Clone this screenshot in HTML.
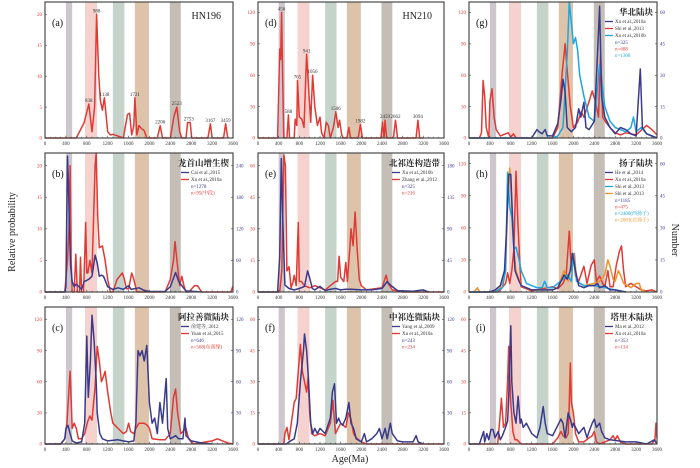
<!DOCTYPE html>
<html><head><meta charset="utf-8"><style>
html,body{margin:0;padding:0;background:#fff;}
svg{display:block;font-family:"Liberation Serif","Noto Serif CJK SC",serif;}
</style></head><body>
<svg id="chart" width="700" height="468" viewBox="0 0 700 468" xmlns="http://www.w3.org/2000/svg"></svg>
<script>
// ---- data ----
const xTicks=[0,400,800,1200,1600,2000,2400,2800,3200,3600];
const bandStart=[400,766,1300,1720,2390];
const bandEnd=[520,996,1520,1990,2600];
const bandColors=['#cdc6cc','#f6d2cf','#c6d3cb','#dcc3aa','#c5beb6'];

const aAge=[0,600,750,838,900,950,988,1030,1060,1100,1138,1200,1250,1300,1400,1500,1580,1620,1660,1700,1721,1760,1800,1850,1900,1950,2150,2206,2250,2400,2470,2523,2580,2620,2700,2730,2780,2810,3120,3167,3200,3420,3459,3500];
const aVal=[0,0,2.5,5.5,1,5,20,10,6,4.5,6.5,1,0.5,0.6,0.3,0,3.8,4,0.5,2,6.5,0.5,2,1.5,1.2,0,0,2,0,0,3.5,5,1,0,0,2.5,2.5,0,0,2.3,0,0,2.3,0];
const aPeaks=[838,988,1138,1721,2206,2523,2753,3167,3459];
const aPeakVals=[5.5,20,6.5,6.5,2,5,2.5,2.3,2.3];

const dAge=[0,380,420,440,456,480,500,560,588,610,700,720,750,765,800,850,890,941,990,1020,1056,1100,1150,1200,1230,1280,1320,1360,1400,1460,1506,1550,1580,1620,1650,1720,1760,1790,1940,1982,2020,2380,2410,2440,2459,2490,2620,2662,2700,3060,3094,3130,3200];
const dVal=[0,0,85,75,120,50,0,0,22,0,0,18,12,55,20,18,10,80,40,15,60,30,12,20,5,0,15,12,0,10,25,10,17,3,0,0,10,0,0,13,0,0,15,0,17,0,0,17,0,0,17,0,0];
const dPeaks=[456,588,765,941,1056,1506,1982,2459,2662,3094];
const dPeakVals=[120,22,55,80,60,25,13,17,17,17];

const bRedAge=[0,380,430,460,480,500,520,560,590,620,660,680,700,740,780,800,820,860,900,960,980,1010,1040,1100,1150,1200,1250,1300,1380,1480,1520,1560,1600,1660,1700,1760,1800,2300,2400,2460,2490,2540,2580,2620,2660,2700,2760,2860,2920,3000,3560,3600];
const bRedVal=[0,0,5,10,20,5,0,0,6,0,0,5.5,0,0,11,3,3,5,3,20,22,12,7,7.3,5,2,0,0,2,3,2,0.5,0.5,3,2,0,0,0,2,5,8,4,1,2.5,1,0,0,1,1,0,0,1];
const bBlueAge=[0,380,400,430,450,470,490,520,560,600,650,700,750,800,850,900,960,1000,1040,1080,1120,1200,1300,1400,1500,1600,1650,1800,1900,2000,2300,2400,2500,2560,2650,2700,3000];
const bBlueVal=[0,0,10,258,200,120,50,20,10,15,10,5,20,22,25,30,70,55,30,32,30,10,5,8,5,12,5,8,3,1,1,10,37,20,8,2,0];

const cRedAge=[0,300,380,420,480,520,560,600,640,700,760,820,860,900,960,1000,1040,1080,1120,1150,1200,1260,1300,1400,1500,1560,1600,1640,1700,1740,1800,1900,1960,2000,2050,2200,2300,2400,2460,2500,2540,2600,2700,2750,2800,2850,3200,3300,3400,3500,3600];
const cRedVal=[0,0,5,20,70,15,20,15,5,5,10,22,27,23,55,94,80,60,65,70,50,30,20,15,10,12,20,12,10,15,20,20,18,15,5,4,4,10,45,53,30,10,15,5,2,0,3,5,3,1,0];
const cBlueAge=[0,300,380,400,440,480,520,600,700,760,800,830,870,900,940,980,1000,1050,1100,1200,1400,1500,1600,1700,1740,1780,1820,1860,1900,1950,2000,2050,2100,2150,2200,2250,2300,2320,2350,2400,2500,2560,2640,2680,2700,2800,3000,3200];
const cBlueVal=[0,0,5,15,18,10,3,1,2,20,104,45,80,124,100,60,30,10,5,3,4,3,2,3,20,90,85,90,80,95,40,20,25,10,40,20,50,63,15,5,8,5,5,25,8,3,1,0];

const eRedAge=[0,420,460,500,530,560,600,640,680,700,740,780,800,840,900,1000,1100,1200,1300,1400,1500,1540,1570,1600,1660,1700,1730,1780,1800,1840,1880,1920,1960,2000,2100,2400,2480,2520,2600,2800,3600];
const eRedVal=[0,0,10,65,60,10,12,2,5,8,3,33,5,5,3,2,3,2,1,3,5,5,17,7,5,14,5,22,30,22,38,20,6,3,1,2,8,4,1,0,0];
const eBlueAge=[0,380,420,450,480,520,600,700,800,900,960,1000,1050,1100,1200,1300,1400,1500,1600,1700,1800,2000,2200,2400,2500,2560,2700,3000,3200,3300];
const eBlueVal=[0,0,50,190,100,10,5,3,5,8,30,20,5,3,8,2,4,5,3,4,4,3,3,5,15,10,2,1,3,0];

const fRedAge=[0,500,520,560,600,700,740,780,820,860,900,940,970,1000,1040,1100,1200,1300,1400,1450,1500,1600,1700,1750,1800,1850,1900,2000,2100,3600];
const fRedVal=[0,0,5,8,2,20,22,35,48,35,30,25,32,15,5,4,5,4,10,21,5,10,8,15,12,5,3,1,0,0];
const fBlueAge=[0,550,600,700,760,820,880,900,940,980,1020,1060,1100,1150,1200,1300,1400,1440,1480,1520,1560,1600,1640,1700,1760,1800,1850,1900,2000,2060,2100,2200,2300,2350,2400,2460,2500,2560,2600,2700,2800,3000,3060,3100,3200];
const fBlueVal=[0,0,2,5,20,60,90,106,90,60,20,10,15,10,15,10,25,50,58,20,25,20,18,25,40,20,15,5,2,10,2,5,10,15,5,15,5,20,10,3,2,2,8,2,0];

const gRedAge=[0,200,240,270,300,330,380,400,440,480,520,600,750,800,850,900,1600,1700,1780,1840,1880,1940,2000,2080,2150,2200,2300,2360,2420,2480,2520,2560,2620,2700,2800,2900,3000,3200,3400,3500,3600];
const gRedVal=[0,0,5,55,40,10,0,35,47,20,8,2,5,1,4,0,0,10,60,90,65,30,10,15,25,20,35,45,35,20,80,20,15,10,5,3,5,3,12,8,3];
const gNavyAge=[0,1200,1300,1340,1400,1460,1500,1600,1700,1760,1800,1840,1880,1960,2040,2100,2140,2200,2240,2300,2400,2460,2500,2540,2600,2700,2800,2900,3000,3100,3200,3280,3320,3400,3600];
const gNavyVal=[0,0,4,3,2,4,1,1,7,18,28,22,5,3,5,14,10,17,5,4,8,40,63,20,10,5,2,5,4,2,1,33,5,2,0];
const gCyanAge=[0,1600,1700,1800,1880,1920,1960,2000,2040,2080,2120,2200,2300,2400,2500,2540,2600,2700,2800,2900,3000,3100,3150,3200,3300,3400,3500,3600];
const gCyanVal=[0,0,1,5,40,65,55,45,48,42,30,20,10,8,35,28,15,8,5,4,3,5,10,3,5,2,1,0];

const hRedAge=[0,550,600,700,740,780,820,860,900,940,980,1000,1200,1400,1600,1700,1800,1860,1920,1960,2000,2040,2100,2200,2260,2340,2400,2440,2500,2560,2600,2660,2700,2760,2820,2880,2920,2960,3000,3100,3200,3300,3400,3500,3600];
const hRedVal=[0,0,2,8,18,8,20,40,113,60,20,5,1,3,5,3,8,15,57,20,35,15,10,24,8,25,30,10,15,8,5,20,5,5,25,38,43,20,5,8,5,2,1,2,0];
const hNavyAge=[0,400,500,600,680,720,760,800,840,880,960,1000,1200,1600,1700,1820,1880,1940,1980,2040,2100,2200,2300,2400,2460,2500,2600,2700,2800,3000];
const hNavyVal=[0,0,1,3,10,30,55,55,30,10,5,3,1,1,2,8,6,10,18,10,3,2,3,3,4,2,3,1,1,0];
const hCyanAge=[0,500,560,640,700,740,780,820,860,900,960,1000,1100,1300,1400,1450,1500,1600,1800,1880,1960,2000,2060,2200,2400,2600,2800,3000];
const hCyanVal=[0,0,1,2,10,56,40,35,20,21,15,10,4,2,2,5,2,2,6,8,5,18,5,3,3,2,1,0];
const hOrangeAge=[0,100,160,200,500,600,700,740,780,820,860,900,1000,1200,1600,1700,1820,1900,1980,2020,2060,2200,2400,2500,2600,2660,2700,2760,2800,2860,2900,2960,3100,3200,3260,3300,3400];
const hOrangeVal=[0,0,2,0,0,2,10,40,58,40,20,10,3,1,1,2,10,5,16,18,5,3,4,5,8,15,12,6,5,10,8,4,2,4,4,1,0];

const iRedAge=[0,550,600,620,660,700,740,760,800,840,880,920,1000,1600,1700,1760,1800,1860,1900,1920,1940,1960,2000,2040,2100,2200,2300,2360,2400,2440,2500,2700,2760,2800,2840,2900,3000,3500,3560,3580,3600];
const iRedVal=[0,0,15,22,8,10,30,47,20,6,2,2,0,0,3,6,4,3,5,20,39,20,15,5,1,1,3,4,6,1,0,2,4,2,4,1,0,0,2,10,3];
const iNavyAge=[0,200,280,300,340,380,420,460,500,560,600,640,700,740,760,780,800,820,860,900,940,980,1000,1040,1100,1200,1300,1360,1420,1460,1500,1600,1700,1760,1800,1840,1900,1940,1980,2000,2100,2200,2260,2300,2360,2400,2440,2500,2540,2600,2700,3000,3200,3400,3550,3600];
const iNavyVal=[0,0,6,1,5,2,7,7,3,6,2,4,8,11,22,40,57,30,15,10,23,10,12,8,10,5,3,8,18,10,5,4,9,12,10,3,15,12,8,10,5,8,3,6,10,12,8,10,6,3,2,1,1,0,2,0];

// ---- drawing ----
const NS='http://www.w3.org/2000/svg';
const svg=document.getElementById('chart');
const RED='#e03a35',NAVY='#3a3a8c',CYAN='#1ea6de',ORANGE='#f0922a';
const COLS=[[45,233],[258,444],[469,657]];
const ROWS=[[2,138],[153,292],[307,444]];
function el(tag,attrs,parent){const e=document.createElementNS(NS,tag);for(const k in attrs)e.setAttribute(k,attrs[k]);(parent||svg).appendChild(e);return e;}
function txt(x,y,s,size,fill,anchor,parent){const t=el('text',{x:x,y:y,'font-size':size,fill:fill,'text-anchor':anchor||'start'},parent);t.textContent=s;return t;}

const panels=[
 {id:'a',c:0,r:0,lmax:22,lt:[0,5,10,15,20],series:[[aAge,aVal,RED,'l']],peaks:[aPeaks,aPeakVals],sample:'HN196'},
 {id:'b',c:0,r:1,lmax:22,lt:[0,5,10,15,20],rmax:264,rt:[0,60,120,180,240],series:[[bRedAge,bRedVal,RED,'l'],[bBlueAge,bBlueVal,NAVY,'r']],
  title:'龙首山增生楔',leg:[['Cai et al.,2015',NAVY],['Xu et al.,2010a',RED]],ns:[['n=1278',NAVY],['n=95(中段)',RED]]},
 {id:'c',c:0,r:2,lmax:132,lt:[0,30,60,90,120],rmax:132,rt:[0,30,60,90,120],series:[[cRedAge,cRedVal,RED,'l'],[cBlueAge,cBlueVal,NAVY,'r']],
  title:'阿拉善微陆块',leg:[['俞建等, 2012',NAVY],['Yuan et al.,2015',RED]],ns:[['n=646',NAVY],['n=568(东南缘)',RED]]},
 {id:'d',c:1,r:0,lmax:130,lt:[0,30,60,90,120],series:[[dAge,dVal,RED,'l']],peaks:[dPeaks,dPeakVals],sample:'HN210'},
 {id:'e',c:1,r:1,lmax:66,lt:[0,15,30,45,60],rmax:198,rt:[0,45,90,135,180],series:[[eRedAge,eRedVal,RED,'l'],[eBlueAge,eBlueVal,NAVY,'r']],
  title:'北祁连构造带',leg:[['Xu et al.,2010b',NAVY],['Zhang et al.,2012',RED]],ns:[['n=325',NAVY],['n=216',RED]]},
 {id:'f',c:1,r:2,lmax:66,lt:[0,15,30,45,60],rmax:132,rt:[0,30,60,90,120],series:[[fRedAge,fRedVal,RED,'l'],[fBlueAge,fBlueVal,NAVY,'r']],
  title:'中祁连微陆块',leg:[['Yang et al.,2009',NAVY],['Xu et al.,2010a',RED]],ns:[['n=243',NAVY],['n=234',RED]]},
 {id:'g',c:2,r:0,lmax:130,lt:[0,30,60,90,120],rmax:65,rt:[0,15,30,45,60],series:[[gRedAge,gRedVal,RED,'l'],[gCyanAge,gCyanVal,CYAN,'r'],[gNavyAge,gNavyVal,NAVY,'r']],
  title:'华北陆块',leg:[['Xu et al.,2010a',NAVY],['Shi et al.,2013',RED],['Xu et al.,2010b',CYAN]],ns:[['n=325',NAVY],['n=688',RED],['n=1308',CYAN]]},
 {id:'h',c:2,r:1,lmax:130,lt:[0,30,60,90,120],rmax:65,rt:[0,15,30,45,60],series:[[hRedAge,hRedVal,RED,'l'],[hOrangeAge,hOrangeVal,ORANGE,'r'],[hCyanAge,hCyanVal,CYAN,'r'],[hNavyAge,hNavyVal,NAVY,'r']],
  title:'扬子陆块',leg:[['He et al.,2014',NAVY],['Xu et al.,2010a',RED],['Shi et al.,2013',CYAN],['Shi et al.,2013',ORANGE]],ns:[['n=1185',NAVY],['n=475',RED],['n=2400(西扬子)',CYAN],['n=2083(北扬子)',ORANGE]]},
 {id:'i',c:2,r:2,lmax:66,lt:[0,15,30,45,60],series:[[iRedAge,iRedVal,RED,'l'],[iNavyAge,iNavyVal,NAVY,'l']],
  title:'塔里木陆块',leg:[['Ma et al.,2012',NAVY],['Xu et al.,2010a',RED]],ns:[['n=353',NAVY],['n=134',RED]]}
];

panels.forEach(p=>{
 const [x0,x1]=COLS[p.c],[top,base]=ROWS[p.r];
 const g=el('g',{});
 
 
 const X=a=>x0+(x1-x0)*a/3600;
 const YL=v=>base-(base-top)*v/p.lmax;
 const YR=v=>base-(base-top)*v/p.rmax;
 bandStart.forEach((s,k)=>{
  const b=el('rect',{x:X(s),y:top,width:X(bandEnd[k])-X(s),height:base-top,fill:bandColors[k]},g);
  
  
 });
 p.series.forEach((s,k)=>{
  const [ages,vals,col,side]=s;const Y=side==='l'?YL:YR;
  const pts=ages.map((a,j)=>X(a).toFixed(1)+','+Y(vals[j]).toFixed(1)).join(' ');
  const l=el('polyline',{points:pts,fill:'none',stroke:col,'stroke-width':1.5,'stroke-linejoin':'round'},g);
  
  
 });
 const fr=el('rect',{x:x0,y:top,width:x1-x0,height:base-top,fill:'none',stroke:'#4a4a4a','stroke-width':1.2},g);
 
 
 const xa=el('g',{},g);
 
 
 for(let a=0;a<=3600;a+=100){el('line',{x1:X(a),x2:X(a),y1:base,y2:base-(a%400?1.2:2.2),stroke:'#444','stroke-width':0.6},xa);}
 xTicks.forEach(a=>txt(X(a),base+7,String(a),5,'#333','middle',xa));
 const ya=el('g',{},g);
 
 
 p.lt.forEach(v=>{el('line',{x1:x0,x2:x0+2,y1:YL(v),y2:YL(v),stroke:'#444','stroke-width':0.6},ya);txt(x0-3,YL(v)+1.7,String(v),5,RED,'end',ya);});
 if(p.rt){
  const yr=el('g',{},g);
  
  
  p.rt.forEach(v=>{el('line',{x1:x1,x2:x1-2,y1:YR(v),y2:YR(v),stroke:'#444','stroke-width':0.6},yr);txt(x1+3,YR(v)+1.7,String(v),5,NAVY,'start',yr);});
 }
 const pl=txt(x0+7,top+24,'('+p.id+')',10,'#111','start',g);
 
 
 if(p.sample){
  const sn=txt(x1-12,top+17,p.sample,10,'#222','end',g);
  
  
  p.peaks[0].forEach((a,j)=>txt(X(a),YL(p.peaks[1][j])-2,String(a),5,'#333','middle',g));
 }
 if(p.title){
  const lg=el('g',{},g);
  
  
  const tt=txt(x1-4,top+13,p.title,8.5,'#222','end',lg);
  tt.setAttribute('font-weight','bold');
  const lx=x1-52;let y=top+21;
  p.leg.forEach(e=>{el('line',{x1:lx,x2:lx+8,y1:y-1.5,y2:y-1.5,stroke:e[1],'stroke-width':1.3},lg);txt(lx+10,y,e[0],5,'#333','start',lg);y+=7;});
  p.ns.forEach(e=>{txt(lx+10,y,e[0],5,e[1],'start',lg);y+=6.5;});
 }
});
const yt=txt(0,0,'Relative probability',10,'#222','middle');
yt.setAttribute('transform','translate(15,232) rotate(-90)');


const nt=txt(0,0,'Number',10,'#222','middle');
nt.setAttribute('transform','translate(672,240) rotate(90)');


const xt=txt(350,462,'Age(Ma)',10,'#222','middle');


</script>
</body></html>
